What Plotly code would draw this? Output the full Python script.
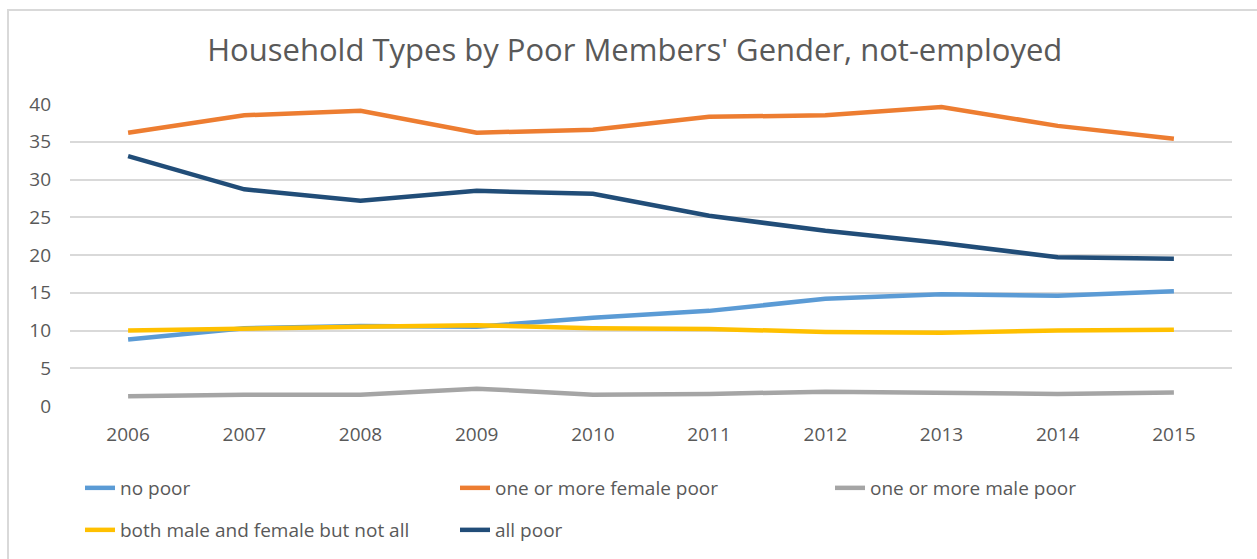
import plotly.graph_objects as go

years = ["2006", "2007", "2008", "2009", "2010", "2011", "2012", "2013", "2014", "2015"]

no_poor = [8.8, 10.3, 10.6, 10.5, 11.7, 12.6, 14.2, 14.8, 14.6, 15.2]
female_poor = [36.2, 38.5, 39.1, 36.2, 36.6, 38.3, 38.5, 39.6, 37.1, 35.4]
male_poor = [1.3, 1.5, 1.5, 2.3, 1.5, 1.6, 1.9, 1.8, 1.6, 1.8]
both_not_all = [10.0, 10.3, 10.5, 10.7, 10.3, 10.2, 9.8, 9.7, 10.0, 10.1]
all_poor = [33.1, 28.7, 27.2, 28.5, 28.1, 25.2, 23.2, 21.6, 19.7, 19.5]

series = [
    ("no poor", no_poor, "#5B9BD5", "legend"),
    ("one or more female poor", female_poor, "#ED7D31", "legend"),
    ("one or more male poor", male_poor, "#A5A5A5", "legend"),
    ("both male and female but not all", both_not_all, "#FFC000", "legend2"),
    ("all poor", all_poor, "#214D78", "legend2"),
]

FONT = "Open Sans"
TXT = "#595959"

fig = go.Figure()
for name, vals, color, lg in series:
    fig.add_trace(go.Scatter(
        x=years, y=vals, name=name, mode="lines",
        line=dict(color=color, width=4.5),
        legend=lg,
    ))

W, H = 1257, 559
L, R, T, B = 70, 1232, 104, 406
pw, ph = R - L, B - T


def px_x(p):
    return (p - L) / pw


def px_y(p):
    return (B - p) / ph


leg_common = dict(
    orientation="h",
    xref="container", yref="container",
    xanchor="left", yanchor="middle",
    font=dict(family=FONT, size=19, color=TXT),
    entrywidth=330, entrywidthmode="pixels",
    itemwidth=30, bgcolor="rgba(0,0,0,0)",
    traceorder="normal",
)

fig.update_layout(
    width=W, height=H,
    margin=dict(l=L, r=W - R, t=T, b=H - B),
    paper_bgcolor="white", plot_bgcolor="white",
    title=dict(
        text="Household Types by Poor Members' Gender, not-employed",
        x=0.505, xanchor="center", xref="container",
        y=1 - 50 / H, yanchor="middle", yref="container",
        font=dict(family=FONT, size=31, color=TXT),
    ),
    xaxis=dict(
        type="category", range=[-0.5, 9.5],
        showgrid=False, zeroline=False, showline=False,
        ticks="", ticklabelstandoff=15,
        tickfont=dict(family=FONT, size=19, color=TXT),
    ),
    yaxis=dict(
        range=[0, 40], dtick=5, tick0=0,
        showgrid=True, gridcolor="#D9D9D9", gridwidth=1.5,
        zeroline=False, showline=False, ticks="",
        ticklabelstandoff=18,
        tickfont=dict(family=FONT, size=19, color=TXT),
    ),
    legend=dict(leg_common, x=80 / W, y=1 - 488 / H),
    legend2=dict(leg_common, x=80 / W, y=1 - 530 / H),
    shapes=[dict(
        type="rect", xref="paper", yref="paper",
        x0=px_x(8), x1=px_x(W + 20), y0=px_y(H + 20), y1=px_y(10),
        line=dict(color="#D9D9D9", width=2), fillcolor="rgba(0,0,0,0)",
        layer="below",
    )],
)

fig.write_html("out.html")
